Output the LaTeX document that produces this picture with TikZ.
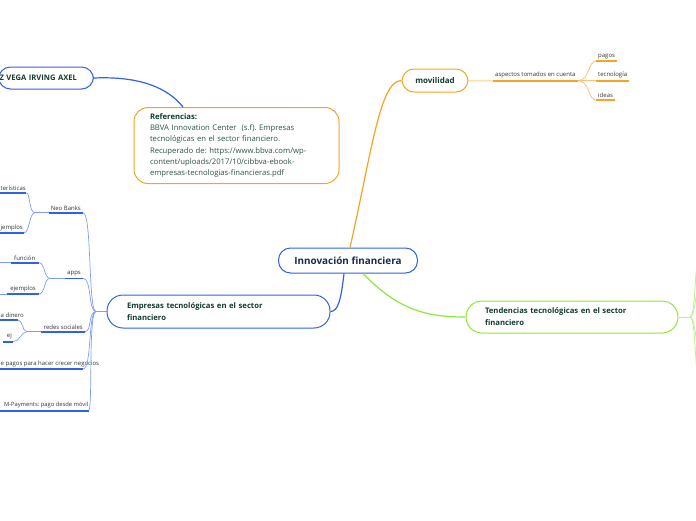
\documentclass[tikz,border=0pt]{standalone}
\usepackage{fontspec}
\setmainfont{Open Sans}
\frenchspacing
\definecolor{blueC}{HTML}{2F62EA}
\definecolor{lblueC}{HTML}{7E9EF6}
\definecolor{orangeC}{HTML}{F6A423}
\definecolor{paleO}{HTML}{FBDDB0}
\definecolor{lorangeC}{HTML}{F8C27A}
\definecolor{greenC}{HTML}{8EE83C}
\definecolor{lgreenC}{HTML}{B8F28A}
\definecolor{titleC}{HTML}{123D2E}
\definecolor{navyC}{HTML}{1B2B4A}
\definecolor{refC}{HTML}{2C5444}
\definecolor{leafC}{HTML}{333333}
\begin{document}
\begin{tikzpicture}[x=1pt,y=-1pt,
  box/.style={draw, fill=white, rounded corners=12pt, line width=1pt, text=titleC,
    font=\bfseries\fontsize{7.7}{12}\selectfont, align=left, inner ysep=0pt},
  lf/.style={font=\fontsize{6}{7}\selectfont, text=leafC, inner xsep=2pt, inner ysep=2.2pt},
  ulB/.style={draw=blueC, line width=1.6pt},
  trB/.style={draw=lblueC, line width=0.7pt},
  ulO/.style={draw=orangeC, line width=1.6pt},
  trO/.style={draw=lorangeC, line width=0.8pt},
  trG/.style={draw=lgreenC, line width=0.8pt}]
\useasboundingbox (0,0) rectangle (696,520);
\clip (0,0) rectangle (696,520);

% main nodes
\node[box, draw=blueC, minimum width=139pt, minimum height=25pt, inner xsep=0pt,
  font=\bfseries\fontsize{9.9}{11}\selectfont, text=navyC, align=center] (root) at (348,260.5) {Innovación financiera};
\node[box, draw=orangeC, minimum width=66pt, minimum height=23pt, inner xsep=0pt,
  font=\bfseries\fontsize{8}{10}\selectfont, align=center] (mov) at (435,80.5) {movilidad};
\node[box, draw=blueC, minimum height=33pt, text width=183pt, inner xsep=20pt, rounded corners=16pt] (emp) at (218.5,311.5) {Empresas tecnológicas en el sector\\financiero};
\node[box, draw=greenC, minimum height=32pt, text width=174pt, inner xsep=19pt, rounded corners=16pt] (tend) at (572,317) {Tendencias tecnológicas en el sector\\financiero};
\node[box, draw=orangeC, minimum height=76pt, text width=173pt, inner xsep=16pt, rounded corners=14pt,
  font=\fontsize{7.7}{11.3}\selectfont, text=refC] (ref) at (236.5,145.5) {{\bfseries\color{titleC}Referencias:}\\BBVA Innovation Center\ \ (s.f). Empresas\\tecnológicas en el sector financiero.\\Recuperado de: https://www.bbva.com/wp-\\content/uploads/2017/10/cibbva-ebook-\\empresas-tecnologias-financieras.pdf};
\node[box, draw=blueC, minimum height=22pt, anchor=east, inner xsep=0pt, text width=95pt,
  font=\bfseries\fontsize{7.6}{9}\selectfont] (auth) at (94,78) {\hspace*{1pt}Z VEGA IRVING AXEL};

% main connectors
\draw[orangeC, line width=1.2pt] ([xshift=2pt]root.north) .. controls (372,150) and (380,80.5) .. (mov.west);
\draw[blueC, line width=1.2pt] ([xshift=-4pt]root.south) .. controls (341,300) and (338,311.5) .. (emp.east);
\draw[greenC, line width=1.2pt] ([xshift=15pt]root.south) .. controls (400,312) and (430,317) .. (tend.west);
\draw[blueC, line width=1.2pt] (auth.east) .. controls (140,76) and (168,88) .. ([xshift=-53.5pt]ref.north);

% movilidad branch
\node[lf, anchor=south west] (asp) at (493,80.7) {aspectos tomados en cuenta};
\draw[paleO, line width=1.5pt] (mov.east) -- (asp.south west);
\draw[ulO] (asp.south west) -- (asp.south east);
\node[lf, anchor=south west] (pg) at (596,61) {pagos};
\node[lf, anchor=south west] (tec) at (596,80.7) {tecnología};
\node[lf, anchor=south west] (ide) at (596,100) {ideas};
\foreach \n in {pg,tec,ide}{
  \draw[trO] (asp.south east) .. controls (590,80.7) and (588,0|-\n.south west) .. (\n.south west);
  \draw[ulO] (\n.south west) -- (\n.south east);
}

% tendencias branch (children off the picture)
\coordinate (JG) at (690,317);
\coordinate (gU1) at (700,250);
\coordinate (gU2) at (702,268);
\coordinate (gD1) at (700,384);
\coordinate (gD2) at (702,366);
\draw[trG] (tend.east) -- (JG);
\draw[trG] (JG) .. controls (696,317) and (694,262) .. (gU1);
\draw[trG] (JG) .. controls (696,317) and (696,280) .. (gU2);
\draw[trG] (JG) .. controls (696,317) and (694,372) .. (gD1);
\draw[trG] (JG) .. controls (696,317) and (696,354) .. (gD2);

% empresas branch
\coordinate (J) at (96,311.5);
\draw[trB] (emp.west) -- (J);
\node[lf, anchor=south east] (nb) at (83,212.7) {Neo Banks};
\node[lf, anchor=south east] (apps) at (83,278.3) {apps};
\node[lf, anchor=south east] (rs) at (85,331.7) {redes sociales};
\node[lf, anchor=south west, inner xsep=0.5pt] (pag) at (0,369) {e pagos para hacer crecer negocios};
\coordinate (pagE) at (83,369);
\node[lf, anchor=south east, inner xsep=0pt, font=\fontsize{5.8}{7}\selectfont] (mp) at (88.5,410.7) {M-Payments: pago desde móvil};
\foreach \n in {nb,apps,rs}{
  \draw[trB] (\n.south east) .. controls (92,0|-\n.south east) and (88,311.5) .. (J);
  \draw[ulB] (\n.south west) -- (\n.south east);
}
\draw[trB] (pagE) .. controls (92,369) and (88,311.5) .. (J);
\draw[ulB] (pag.south west) -- (pagE);
\draw[trB] (mp.south east) .. controls (93,410.7) and (88,311.5) .. (J);
\draw[ulB] ([xshift=-5pt]mp.south west) -- (mp.south east);

% Neo Banks children
\coordinate (JN) at (35,212.7);
\draw[trB] (JN) -- (nb.south west);
\node[lf, anchor=south west, inner xsep=0.5pt] (car) at (0,192.7) {terísticas};
\node[lf, anchor=south west, inner xsep=0.5pt] (ej1) at (0,233) {jemplos};
\foreach \n in {car,ej1}{
  \draw[trB] (\n.south east) .. controls (30,0|-\n.south east) and (29,212.7) .. (JN);
  \draw[ulB] ([xshift=-3pt]\n.south west) -- (\n.south east);
}

% apps children
\coordinate (JA) at (50,278.3);
\draw[trB] (JA) -- (apps.south west);
\node[lf, anchor=south east, inner xsep=3.5pt] (fun) at (39,262.7) {función};
\node[lf, anchor=south east, inner xsep=3pt] (ej2) at (39,294) {ejemplos};
\coordinate (funL) at (-2,262.7);
\coordinate (ej2L) at (-2,294);
\draw[trB] (funL) -- (fun.south west);
\draw[trB] (ej2L) -- (ej2.south west);
\foreach \n in {fun,ej2}{
  \draw[trB] (\n.south east) .. controls (45,0|-\n.south east) and (44,278.3) .. (JA);
  \draw[ulB] (\n.south west) -- (\n.south east);
}

% redes sociales children
\coordinate (JR) at (27,331.7);
\draw[trB] (JR) -- (rs.south west);
\node[lf, anchor=south west, inner xsep=0.5pt] (din) at (0,320) {a dinero};
\node[lf, anchor=south east, inner xsep=1pt] (ej3) at (13,341.7) {ej};
\coordinate (dinE) at (18,320);
\draw[ulB] ([xshift=-3pt]din.south west) -- (dinE);
\draw[trB] (dinE) .. controls (23,320) and (22,331.7) .. (JR);
\draw[ulB] ([xshift=-3pt]ej3.south west) -- (ej3.south east);
\draw[trB] (ej3.south east) .. controls (20,341.7) and (21,331.7) .. (JR);
\end{tikzpicture}
\end{document}
